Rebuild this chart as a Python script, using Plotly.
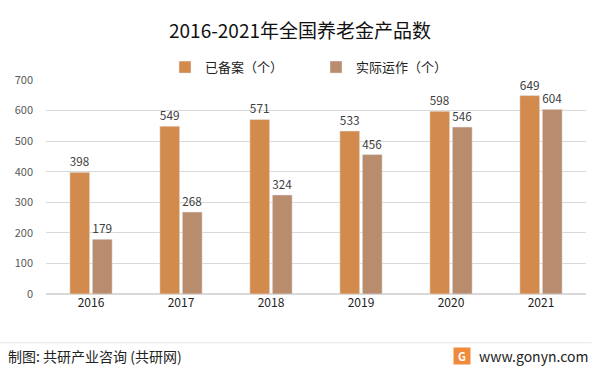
import plotly.graph_objects as go

years = ["2016", "2017", "2018", "2019", "2020", "2021"]
filed = [398, 549, 571, 533, 598, 649]
operating = [179, 268, 324, 456, 546, 604]
series_names = ["已备案（个）", "实际运作（个）"]
colors = ["#D38B4D", "#BA8C6E"]

fig = go.Figure()
for name, vals, c in zip(series_names, [filed, operating], colors):
    fig.add_trace(go.Bar(
        x=years, y=vals, name=name, marker_color=c,
        text=vals, textposition="outside",
        textfont=dict(size=12, color="#404040"), cliponaxis=False,
    ))

fig.update_layout(
    width=600, height=372,
    margin=dict(l=46, r=14, t=80, b=78, autoexpand=False),
    paper_bgcolor="white", plot_bgcolor="white",
    font=dict(family="Noto Sans CJK SC, Noto Sans, sans-serif", color="#404040", size=11),
    title=dict(text="2016-2021年全国养老金产品数", x=0.5, xanchor="center", y=0.915, yanchor="middle",
               font=dict(size=19, color="#111111")),
    barmode="group", bargap=0.5, bargroupgap=0.12,
    showlegend=True,
    legend=dict(orientation="h", x=0.5, xanchor="center", y=1.06, yanchor="middle",
                font=dict(size=13, color="#222222"), itemwidth=30, entrywidth=106,
                traceorder="normal"),
    yaxis=dict(range=[0, 700], dtick=100, showgrid=True, gridcolor="#D9D9D9", gridwidth=1,
               zeroline=True, zerolinecolor="#D9D9D9", tickfont=dict(size=11, color="#595959"),
               ticks="", ticklabelstandoff=12, automargin=False),
    xaxis=dict(showline=False, tickfont=dict(size=12, color="#222222"), ticks="", automargin=False),
)

fig.add_shape(type="line", xref="paper", yref="paper", x0=-0.085, x1=1.01, y0=-0.228, y1=-0.228,
              line=dict(color="#E5E5E5", width=1))
fig.add_annotation(text="制图: 共研产业咨询 (共研网)", xref="paper", yref="paper",
                   x=-0.075, y=-0.29, xanchor="left", yanchor="middle", showarrow=False,
                   font=dict(size=14, color="#222222"))
fig.add_annotation(text="www.gonyn.com", xref="paper", yref="paper",
                   x=1.008, y=-0.29, xanchor="right", yanchor="middle", showarrow=False,
                   font=dict(size=14, color="#222222"))
fig.add_annotation(text="<b>G</b>", xref="paper", yref="paper",
                   x=0.77, y=-0.29, xanchor="center", yanchor="middle", showarrow=False,
                   bgcolor="#F08A3C", font=dict(size=11, color="white"), width=14, height=14)

fig.write_html("out.html", config={"displayModeBar": False},
               post_script="document.body.style.margin='0px';")
